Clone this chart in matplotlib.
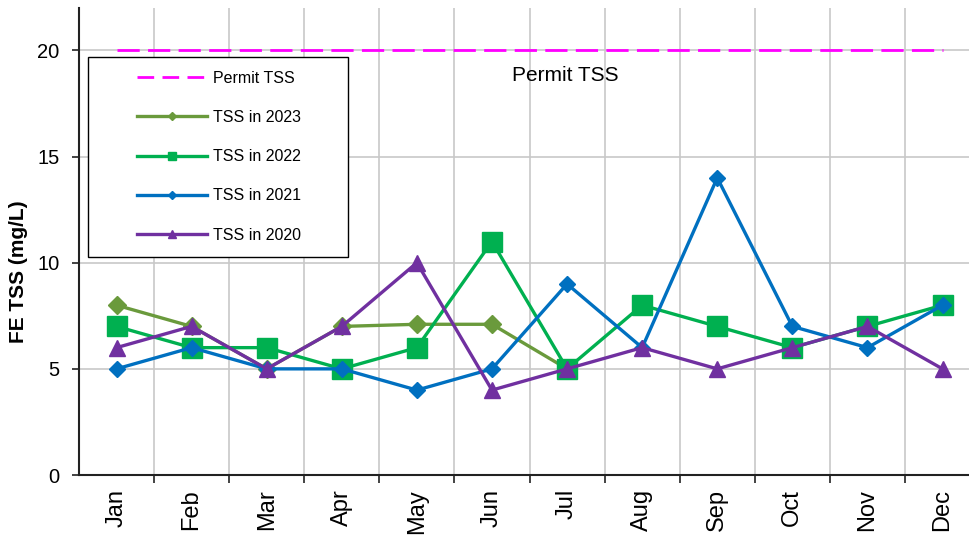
import matplotlib
matplotlib.use('Agg')
import matplotlib.pyplot as plt
from matplotlib.lines import Line2D
from matplotlib.patches import Rectangle
import numpy as np

plt.rcParams['font.family'] = ['Liberation Sans', 'DejaVu Sans']

# === DATA === #
months = ['Jan', 'Feb', 'Mar', 'Apr', 'May', 'Jun', 'Jul', 'Aug', 'Sep', 'Oct', 'Nov', 'Dec']
permit_tss = [20, 20, 20, 20, 20, 20, 20, 20, 20, 20, 20, 20]
tss_2023 = [8, 7, 5, 7, 7.1, 7.1, 5]   # only Jan-Jul reported
tss_2022 = [7, 6, 6, 5, 6, 11, 5, 8, 7, 6, 7, 8]
tss_2021 = [5, 6, 5, 5, 4, 5, 9, 6, 14, 7, 6, 8]
tss_2020 = [6, 7, 5, 7, 10, 4, 5, 6, 5, 6, 7, 5]

c_permit = '#ff00ff'
c_2023 = '#6a9a3c'
c_2022 = '#00b050'
c_2021 = '#0070c0'
c_2020 = '#7030a0'

fig = plt.figure(figsize=(9.7, 5.38), dpi=100)
ax = fig.add_axes([0.0814, 0.1171, 0.929, 0.868])

x = np.arange(len(months))

# series (drawn in legend order, later ones on top)
ax.plot(x, permit_tss, color=c_permit, lw=2, dashes=(8, 3), zorder=3)
ax.plot(x[:len(tss_2023)], tss_2023, color=c_2023, lw=2.4, marker='D', ms=9, zorder=4)
ax.plot(x, tss_2022, color=c_2022, lw=2.4, marker='s', ms=15, zorder=5)
ax.plot(x, tss_2021, color=c_2021, lw=2.4, marker='D', ms=8.5, zorder=6)
ax.plot(x, tss_2020, color=c_2020, lw=2.4, marker='^', ms=11, zorder=7)

ax.text(5.97, 18.8, 'Permit TSS', ha='center', va='center', fontsize=15, zorder=8)

# axes
ax.set_xlim(-0.5, 11.5)
ax.set_ylim(0, 22)
ax.set_yticks([0, 5, 10, 15, 20])
ax.set_xticks(x)
ax.set_xticklabels(months, rotation=90)
ax.set_xticks(np.arange(0.5, 11, 1), minor=True)
ax.tick_params(axis='x', which='major', length=0, labelsize=17, pad=10)
ax.tick_params(axis='x', which='minor', length=6, width=1.2, color='#222222')
ax.tick_params(axis='y', length=5, width=1.2, color='#222222', labelsize=14.5, pad=9)

ax.grid(True, axis='y', which='major', color='#c8c8c8', lw=1.2)
ax.grid(True, axis='x', which='minor', color='#c8c8c8', lw=1.2)
ax.set_axisbelow(True)

for s in ['top', 'right']:
    ax.spines[s].set_visible(False)
for s in ['left', 'bottom']:
    ax.spines[s].set_color('#222222')
    ax.spines[s].set_linewidth(1.5)

ax.set_ylabel('FE TSS (mg/L)', fontsize=15, fontweight='bold')
ax.yaxis.set_label_coords(-0.056, 0.435)

# legend box drawn separately (wide side padding)
box = Rectangle((0.01, 0.466), 0.2886, 0.4283, transform=ax.transAxes,
                facecolor='white', edgecolor='black', lw=1, zorder=9)
ax.add_patch(box)

handles = [
    Line2D([], [], color=c_permit, lw=2, dashes=(6, 3)),
    Line2D([], [], color=c_2023, lw=2.4, marker='D', ms=4.5),
    Line2D([], [], color=c_2022, lw=2.4, marker='s', ms=6),
    Line2D([], [], color=c_2021, lw=2.4, marker='D', ms=4.5),
    Line2D([], [], color=c_2020, lw=2.4, marker='^', ms=5.5),
]
labels = ['Permit TSS', 'TSS in 2023', 'TSS in 2022', 'TSS in 2021', 'TSS in 2020']
leg = ax.legend(handles, labels, loc='upper left', bbox_to_anchor=(0.0644, 0.866),
                frameon=False, fontsize=11.5, handlelength=4.4, handletextpad=0.35,
                labelspacing=1.52, borderpad=0, borderaxespad=0)
leg.set_zorder(10)

fig.savefig('out.png', dpi=100)
